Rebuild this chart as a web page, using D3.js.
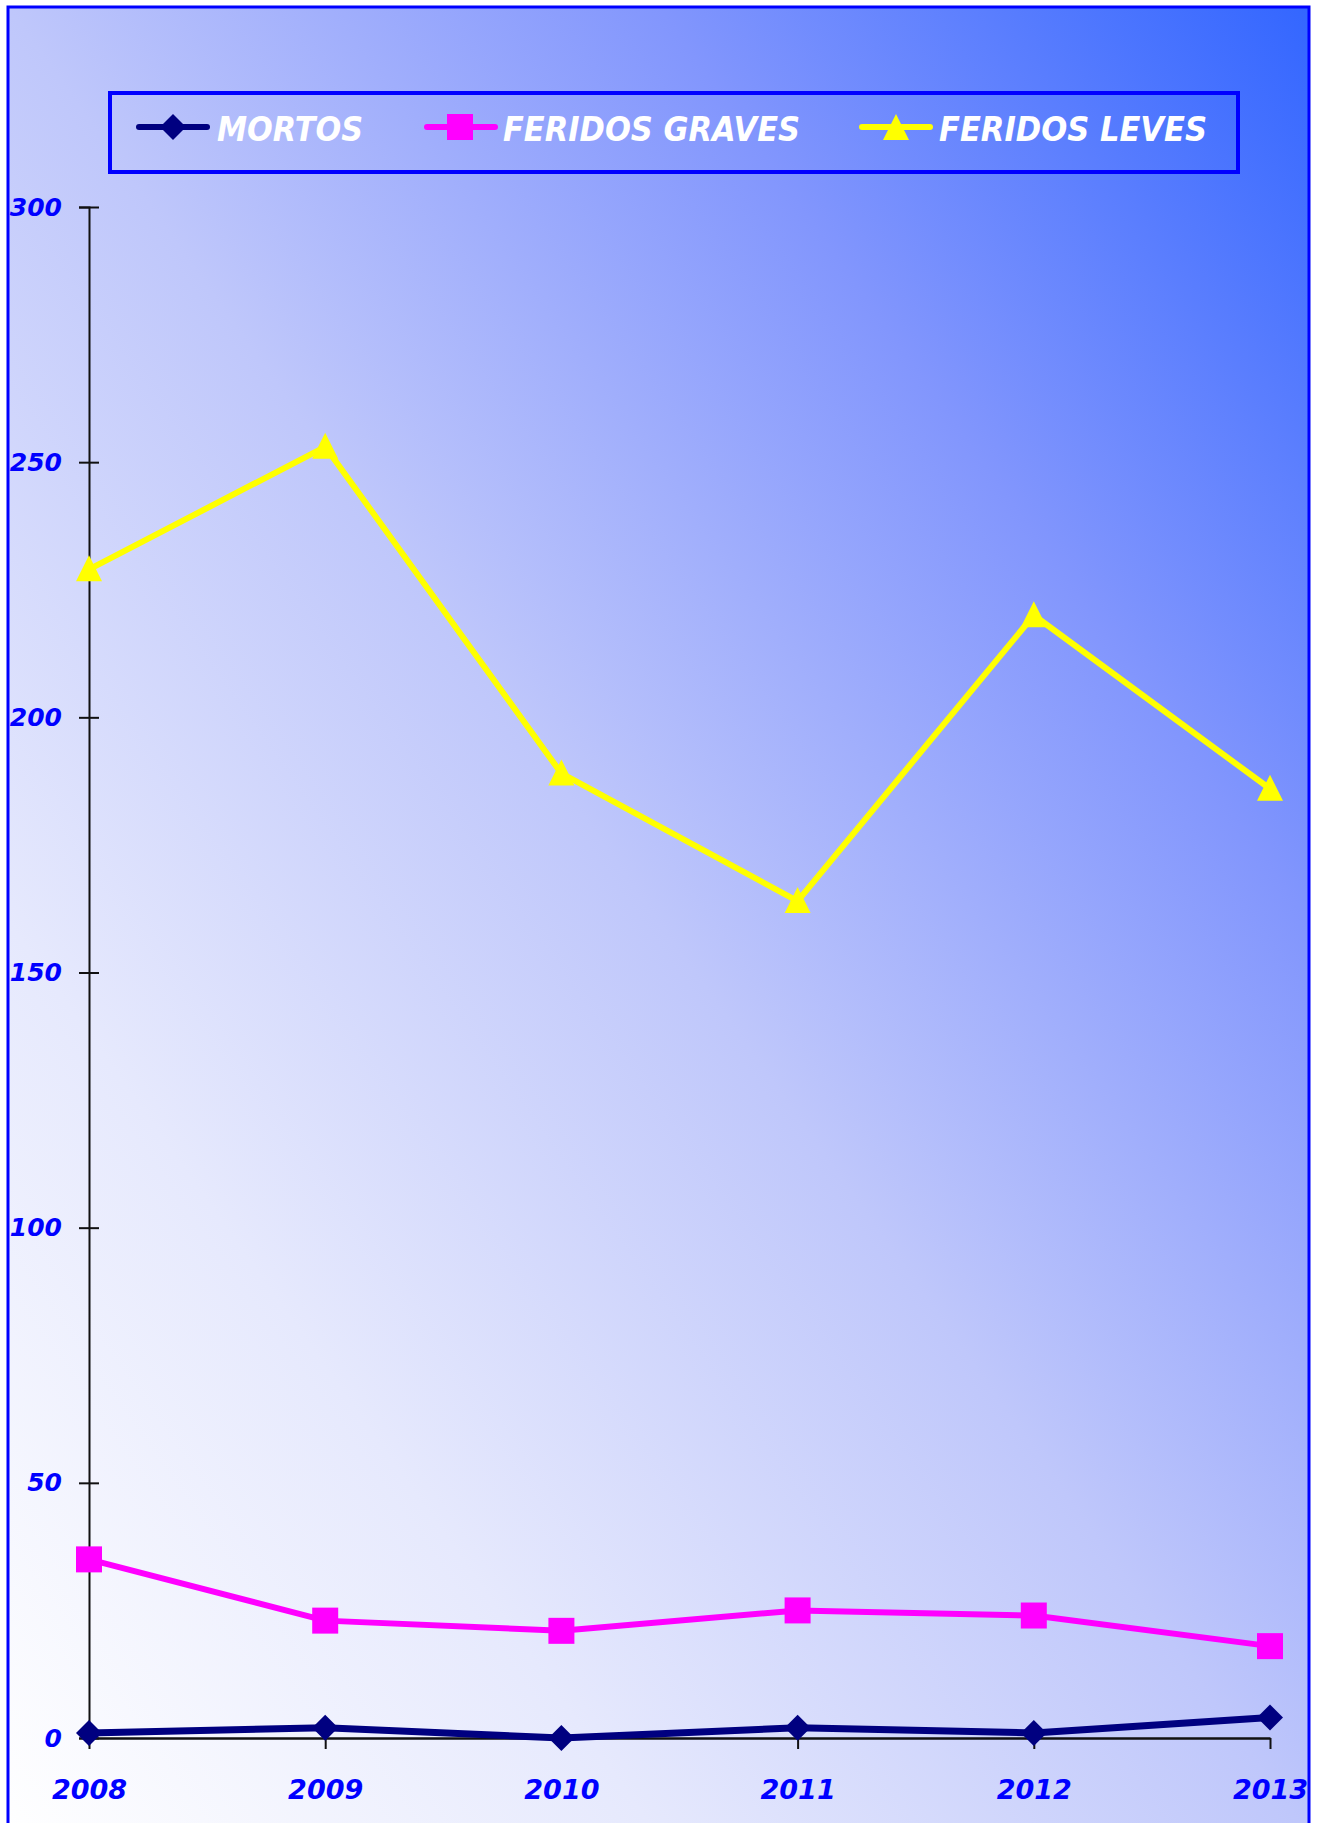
<!DOCTYPE html>
<html>
<head>
<meta charset="utf-8">
<script src="https://cdn.jsdelivr.net/npm/d3@7"></script>
<style>
  html, body { margin: 0; padding: 0; background: #ffffff; }
  svg { display: block; }
  text { font-family: "DejaVu Sans", sans-serif; font-weight: bold; font-style: italic; }
</style>
</head>
<body>
<script>
// ---- data ----
const years = ["2008", "2009", "2010", "2011", "2012", "2013"];
const mortos = [1, 2, 0, 2, 1, 4];
const feridosGraves = [35, 23, 21, 25, 24, 18];
const feridosLeves = [229, 253, 189, 164, 220, 186];
const seriesNames = ["MORTOS", "FERIDOS GRAVES", "FERIDOS LEVES"];
const yTicks = [0, 50, 100, 150, 200, 250, 300];

const W = 1317, H = 1823;
const svg = d3.select("body").append("svg").attr("width", W).attr("height", H);

// background gradient
const defs = svg.append("defs");
const grad = defs.append("linearGradient").attr("id", "bg")
  .attr("x1", 0).attr("y1", 1).attr("x2", 1).attr("y2", 0);
[[0, "#ffffff"], [0.25, "#e6e9fd"], [0.5, "#bfc7fb"], [0.75, "#8296fd"], [1, "#3366ff"]].forEach(([o, c]) =>
  grad.append("stop").attr("offset", o).attr("stop-color", c));

svg.append("rect").attr("x", 8).attr("y", 7).attr("width", 1301).attr("height", 1830)
  .attr("fill", "url(#bg)").attr("stroke", "#0000ff").attr("stroke-width", 3);

// scales
const x = d3.scalePoint().domain(years).range([89, 1270]);
const y = d3.scaleLinear().domain([0, 300]).range([1738, 207]);

// y axis
const gy = svg.append("g").attr("transform", "translate(89,0)")
  .call(d3.axisLeft(y).tickValues(yTicks).tickSize(10).tickPadding(17).tickFormat(d3.format("d")));
gy.select(".domain").attr("stroke", "#111").attr("stroke-width", 2);
gy.selectAll(".tick line").attr("x1", 10).attr("stroke", "#111").attr("stroke-width", 2);
gy.selectAll(".tick text").attr("fill", "#0000ff").attr("font-size", 25)
  .attr("font-family", "DejaVu Sans").attr("dy", "0.32em");

// x axis
const gx = svg.append("g").attr("transform", "translate(0,1738)")
  .call(d3.axisBottom(x).tickSize(11).tickSizeOuter(0).tickPadding(45));
gx.select(".domain").attr("stroke", "#111").attr("stroke-width", 2.5);
gx.selectAll(".tick line").attr("stroke", "#111").attr("stroke-width", 2);
gx.selectAll(".tick text").attr("fill", "#0000ff").attr("font-size", 27)
  .attr("font-family", "DejaVu Sans").attr("dy", "0.2em");

// markers
const diamond = "M0,-13L13,0L0,13L-13,0Z";
const square = "M-13,-13H13V13H-13Z";
const triangle = "M0,-14L13,12L-13,12Z";

const series = [
  { name: seriesNames[0], values: mortos, color: "#000080", marker: diamond, w: 7 },
  { name: seriesNames[1], values: feridosGraves, color: "#ff00ff", marker: square, w: 6 },
  { name: seriesNames[2], values: feridosLeves, color: "#ffff00", marker: triangle, w: 6 }
];

const line = d3.line().x((d, i) => x(years[i])).y(d => y(d));

series.forEach(s => {
  const g = svg.append("g");
  g.append("path").datum(s.values).attr("d", line)
    .attr("fill", "none").attr("stroke", s.color).attr("stroke-width", s.w)
    .attr("stroke-linejoin", "round");
  g.selectAll("path.m").data(s.values).enter().append("path").attr("class", "m")
    .attr("d", s.marker)
    .attr("transform", (d, i) => `translate(${x(years[i])},${y(d)})`)
    .attr("fill", s.color);
});

// legend
svg.append("rect").attr("x", 110).attr("y", 93).attr("width", 1128).attr("height", 79)
  .attr("fill", "none").attr("stroke", "#0000ff").attr("stroke-width", 4);

const legendItems = [
  { lx: 139, mx: 173, tx: 217, tw: 146, marker: diamond },
  { lx: 427, mx: 460, tx: 503, tw: 297, marker: square },
  { lx: 862, mx: 896, tx: 939, tw: 268, marker: "M0,-13L13,13L-13,13Z" }
];
legendItems.forEach((it, i) => {
  const s = series[i];
  const g = svg.append("g");
  g.append("line").attr("x1", it.lx).attr("x2", it.lx + 68).attr("y1", 127).attr("y2", 127)
    .attr("stroke", s.color).attr("stroke-width", 6).attr("stroke-linecap", "round");
  g.append("path").attr("d", it.marker).attr("transform", `translate(${it.mx},127)`).attr("fill", s.color);
  g.append("text").attr("x", it.tx).attr("y", 141).attr("fill", "#ffffff").attr("font-size", 33)
    .attr("textLength", it.tw).attr("lengthAdjust", "spacingAndGlyphs").text(s.name);
});
</script>
</body>
</html>
